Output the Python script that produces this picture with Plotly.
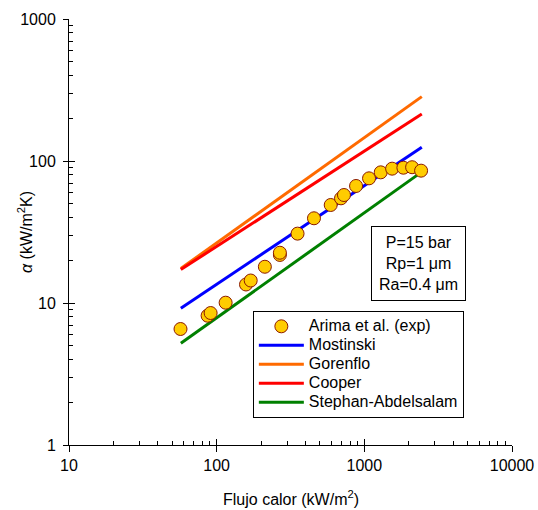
import plotly.graph_objects as go

# Experimental data (Arima et al.)
q_exp = [56.9, 86.8, 91, 115, 158, 170, 212, 268, 268, 353, 456, 592, 695, 728,
         879, 1076, 1291, 1542, 1838, 2106, 2423]
a_exp = [6.56, 8.14, 8.5, 10.05, 13.5, 14.4, 18.0, 21.8, 22.6, 30.8, 39.5, 49.0,
         54.6, 57.6, 66.7, 75.5, 83.2, 88.3, 89.7, 90.4, 85.5]

# Correlations (straight lines in log-log)
q_line = [57.2, 2450]
a_mostinski = [9.18, 125]
a_gorenflo = [17.5, 284]
a_cooper = [17.2, 214]
a_stephan = [5.2, 83.8]

x_ticks = [10, 100, 1000, 10000]
x_ticktext = ["10", "100", "1000", "10000"]
y_ticks = [1, 10, 100, 1000]
y_ticktext = ["1", "10", "100", "1000"]

FONT = "Arial, Liberation Sans, sans-serif"
LEG = '<span style="font-size:16px">%s</span>'

fig = go.Figure()
lines = [
    ("Mostinski", a_mostinski, "#0000FF", 2),
    ("Gorenflo", a_gorenflo, "#FF6A00", 3),
    ("Cooper", a_cooper, "#FF0000", 4),
    ("Stephan-Abdelsalam", a_stephan, "#008000", 5),
]
for name, vals, col, rank in lines:
    fig.add_trace(go.Scatter(x=q_line, y=vals, mode="lines", name=LEG % name,
                             line=dict(color=col, width=3), legendrank=rank))
fig.add_trace(go.Scatter(x=q_exp, y=a_exp, mode="markers", name=LEG % "Arima et al. (exp)",
                         marker=dict(color="#FFCC00", size=13,
                                     line=dict(color="#8B1A00", width=1)),
                         legendrank=1))
# invisible trace to activate overlay axes (inside part of major ticks)
fig.add_trace(go.Scatter(x=[100], y=[10], xaxis="x2", yaxis="y2", mode="markers",
                         marker=dict(opacity=0), showlegend=False, hoverinfo="skip"))

minor_x = [m * 10 ** d for d in range(1, 4) for m in range(2, 10)]
minor_y = [m * 10 ** d for d in range(0, 3) for m in range(2, 10)]

fig.update_layout(
    width=538, height=510,
    margin=dict(l=69, r=26, t=19, b=65, autoexpand=False),
    paper_bgcolor="white", plot_bgcolor="white",
    font=dict(family=FONT, size=16, color="black"),
    showlegend=True,
    legend=dict(x=0.415, y=0.315, xanchor="left", yanchor="top",
                bordercolor="black", borderwidth=1, bgcolor="white",
                font=dict(size=12, family=FONT), tracegroupgap=0, itemwidth=45),
    xaxis=dict(type="log", range=[1, 4], showgrid=False, zeroline=False,
               showline=True, linecolor="black", linewidth=1, automargin=False,
               tickmode="array", tickvals=x_ticks, ticktext=x_ticktext,
               ticks="outside", ticklen=6, tickcolor="black",
               minor=dict(tickmode="array", tickvals=minor_x, ticks="inside",
                          ticklen=4, tickcolor="black"),
               tickfont=dict(size=16)),
    yaxis=dict(type="log", range=[0, 3], showgrid=False, zeroline=False,
               showline=True, linecolor="black", linewidth=1, automargin=False,
               tickmode="array", tickvals=y_ticks, ticktext=y_ticktext,
               ticks="outside", ticklen=5, tickcolor="black", ticklabelstandoff=4,
               minor=dict(tickmode="array", tickvals=minor_y, ticks="inside",
                          ticklen=4, tickcolor="black"),
               tickfont=dict(size=16)),
    xaxis2=dict(type="log", range=[1, 4], overlaying="x", side="bottom",
                showgrid=False, zeroline=False, showline=False, automargin=False,
                tickmode="array", tickvals=x_ticks, showticklabels=False,
                ticks="inside", ticklen=6, tickcolor="black"),
    yaxis2=dict(type="log", range=[0, 3], overlaying="y", side="left",
                showgrid=False, zeroline=False, showline=False, automargin=False,
                tickmode="array", tickvals=y_ticks, showticklabels=False,
                ticks="inside", ticklen=6, tickcolor="black"),
    annotations=[
        dict(x=0.79, y=0.425, xref="paper", yref="paper", xanchor="center", yanchor="middle",
             text="P=15 bar<br>Rp=1 μm<br>Ra=0.4 μm", showarrow=False,
             font=dict(size=16, family=FONT), align="center",
             bordercolor="black", borderwidth=1, borderpad=7, bgcolor="white"),
        dict(x=-0.0993, y=0.5, xref="paper", yref="paper", xanchor="center", yanchor="middle",
             text="<i>α</i> (kW/m<sup>2</sup>K)", textangle=-90, showarrow=False,
             font=dict(size=16, family=FONT)),
        dict(x=0.5, y=-0.125, xref="paper", yref="paper", xanchor="center", yanchor="middle",
             text="Flujo calor (kW/m<sup>2</sup>)", showarrow=False,
             font=dict(size=16, family=FONT)),
    ],
)

fig.write_html("out.html")
